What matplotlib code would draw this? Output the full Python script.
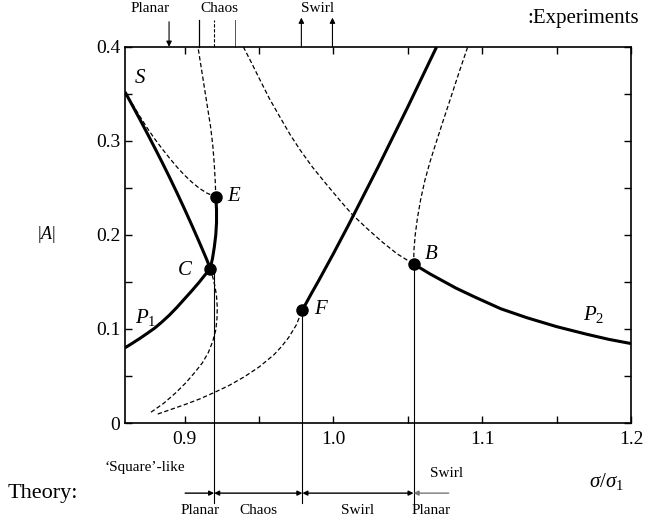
import numpy as np
import matplotlib
matplotlib.use("Agg")
import matplotlib.pyplot as plt

plt.rcParams['font.family'] = ['Liberation Serif', 'DejaVu Serif']
plt.rcParams['mathtext.fontset'] = 'custom'
plt.rcParams['mathtext.rm'] = 'Liberation Serif'
plt.rcParams['mathtext.it'] = 'Liberation Serif:italic'

# ---- response branches (sigma/sigma_1, |A|) ----
p1_low_s = [0.860, 0.865, 0.870, 0.875, 0.880, 0.885, 0.890, 0.895, 0.900, 0.905, 0.910,
            0.9135, 0.9172, 0.9188, 0.9200, 0.9210, 0.9215, 0.9215, 0.9210]
p1_low_a = [0.080, 0.0849, 0.090, 0.0954, 0.101, 0.1077, 0.115, 0.1232, 0.132, 0.1408, 0.150,
            0.157, 0.164, 0.175, 0.187, 0.200, 0.213, 0.227, 0.2404]

p1_up_s = [0.9210, 0.9207, 0.9200, 0.9190, 0.9175, 0.9155, 0.9130, 0.9110, 0.9090]
p1_up_a = [0.2404, 0.255, 0.275, 0.295, 0.315, 0.335, 0.360, 0.380, 0.400]

sq_stable_s = [0.860, 0.865, 0.870, 0.875, 0.880, 0.885, 0.890, 0.895, 0.900, 0.905, 0.910,
               0.915, 0.9172]
sq_stable_a = [0.352, 0.3375, 0.3228, 0.3078, 0.2925, 0.2770, 0.2610, 0.2445, 0.2275, 0.2100,
               0.1920, 0.1735, 0.1645]

sq_unst_s = [0.860, 0.865, 0.870, 0.875, 0.880, 0.885, 0.890, 0.895, 0.900, 0.905, 0.910,
             0.915, 0.9210]
sq_unst_a = [0.352, 0.339, 0.326, 0.3135, 0.302, 0.2915, 0.2815, 0.272, 0.2635, 0.256,
             0.2495, 0.2445, 0.2404]

c_low_s = [0.9172, 0.9190, 0.9205, 0.9215, 0.9220, 0.9218, 0.9210, 0.9190, 0.9160, 0.9120,
           0.9070, 0.9010, 0.8940, 0.8860, 0.8770]
c_low_a = [0.164, 0.155, 0.145, 0.135, 0.123, 0.111, 0.099, 0.087, 0.075, 0.064,
           0.054, 0.043, 0.032, 0.021, 0.011]

sw_unst_s = [0.882, 0.890, 0.900, 0.910, 0.920, 0.930, 0.940, 0.950, 0.960, 0.965, 0.970,
             0.975, 0.9792]
sw_unst_a = [0.0096, 0.0140, 0.0195, 0.0255, 0.0325, 0.040, 0.049, 0.0595, 0.0725, 0.081,
             0.091, 0.104, 0.1202]

sw_stable_s = [0.9792, 0.9850, 0.990, 1.000, 1.010, 1.020, 1.030, 1.040, 1.050, 1.060, 1.0694]
sw_stable_a = [0.1202, 0.137, 0.151, 0.180, 0.210, 0.241, 0.272, 0.304, 0.336, 0.369, 0.400]

p2_unst_s = [0.9395, 0.945, 0.950, 0.957, 0.9644, 0.971, 0.9778, 0.986, 0.995, 1.004,
             1.0129, 1.023, 1.033, 1.043, 1.0539]
p2_unst_a = [0.400, 0.383, 0.367, 0.345, 0.3245, 0.3065, 0.290, 0.272, 0.2545, 0.2375,
             0.2213, 0.2063, 0.1923, 0.1797, 0.1691]

p2_stable_s = [1.0539, 1.065, 1.0822, 1.095, 1.1125, 1.130, 1.150, 1.170, 1.185, 1.200]
p2_stable_a = [0.1691, 0.1585, 0.1436, 0.134, 0.1215, 0.112, 0.1025, 0.0945, 0.089, 0.0845]

b_up_s = [1.0539, 1.0542, 1.0550, 1.0565, 1.0587, 1.0615, 1.0650, 1.0690, 1.0735, 1.0785,
          1.0843, 1.0903]
b_up_a = [0.1691, 0.185, 0.200, 0.218, 0.238, 0.258, 0.278, 0.298, 0.320, 0.344,
          0.372, 0.400]

# special points
pt_names = ['E', 'C', 'F', 'B']
pt_s = [0.9210, 0.9172, 0.9792, 1.0539]
pt_a = [0.2404, 0.164, 0.1202, 0.1691]

# regime boundaries from theory and experiment marks
theory_edges = [0.9004, 0.9199, 0.9792, 1.0539, 1.0775]
theory_labels = ['Planar', 'Chaos', 'Swirl', 'Planar']
exp_planar_arrow = 0.8896
exp_chaos_lines = [0.910, 0.920, 0.934]
exp_swirl_arrows = [0.9785, 0.9994]

fig = plt.figure(figsize=(6.45, 5.21), dpi=100)
ax = fig.add_axes([0.1938, 0.188, 0.7845, 0.7222])

thick = dict(color='black', lw=2.2, solid_capstyle='butt', solid_joinstyle='round')
dash = dict(color='black', lw=0.9, linestyle=(0, (3.5, 2.0)))

ax.plot(p1_low_s, p1_low_a, **thick)
ax.plot(p1_up_s, p1_up_a, **dash)
ax.plot(sq_stable_s, sq_stable_a, **thick)
ax.plot(sq_unst_s, sq_unst_a, **dash)
ax.plot(c_low_s, c_low_a, **dash)
ax.plot(sw_unst_s, sw_unst_a, **dash)
ax.plot(sw_stable_s, sw_stable_a, **thick)
ax.plot(p2_unst_s, p2_unst_a, **dash)
ax.plot(p2_stable_s, p2_stable_a, **thick)
ax.plot(b_up_s, b_up_a, **dash)

# thin verticals from bifurcation points down to the theory row
for s, a in [(theory_edges[1], pt_a[1]), (pt_s[2], pt_a[2]), (pt_s[3], pt_a[3])]:
    ax.plot([s, s], [a, -0.085], color='black', lw=0.8, clip_on=False)

ax.plot(pt_s, pt_a, 'o', color='black', markersize=8, zorder=5)

lab_off = {'E': (0.012, 0.0), 'C': (-0.017, -0.002), 'F': (0.012, 0.0), 'B': (0.012, 0.01)}
for n, s, a in zip(pt_names, pt_s, pt_a):
    dx, dy = lab_off[n]
    ax.text(s + dx, a + dy, n, fontsize=15, style='italic', va='center', ha='center')
ax.text(0.870, 0.366, 'S', fontsize=15, style='italic', va='center', ha='center')
ax.text(0.874, 0.112, r'$P_1$', fontsize=15, va='center', ha='center')
ax.text(1.175, 0.115, r'$P_2$', fontsize=15, va='center', ha='center')

ax.set_xlim(0.86, 1.2)
ax.set_ylim(0, 0.4)
ax.set_xticks([0.9, 1.0, 1.1, 1.2])
ax.set_xticklabels(['0.9', '1.0', '1.1', '1.2'])
ax.set_xticks([0.95, 1.05, 1.15], minor=True)
ax.set_yticks([0, 0.1, 0.2, 0.3, 0.4])
ax.set_yticklabels(['0', '0.1', '0.2', '0.3', '0.4'])
ax.set_yticks([0.05, 0.15, 0.25, 0.35], minor=True)
ax.tick_params(which='both', direction='in', top=True, right=True,
               length=5, width=1.0, labelsize=14)
ax.tick_params(axis='x', pad=6)
for sp in ax.spines.values():
    sp.set_linewidth(1.2)

ax.text(-0.155, 0.5, r'$|A|$', transform=ax.transAxes, fontsize=13,
        ha='center', va='center')

# experiments row above the frame
ax.annotate('', xy=(exp_planar_arrow, 0.4), xytext=(exp_planar_arrow, 0.4266),
            arrowprops=dict(arrowstyle='-|>', color='black', lw=0.8,
                            mutation_scale=8, shrinkA=0, shrinkB=0),
            annotation_clip=False)
ax.plot([exp_chaos_lines[0]] * 2, [0.4, 0.4287], color='black', lw=0.9, clip_on=False)
ax.plot([exp_chaos_lines[1]] * 2, [0.4, 0.4287], color='black', lw=0.8,
        linestyle=(0, (3, 1.5)), clip_on=False)
ax.plot([exp_chaos_lines[2]] * 2, [0.4, 0.4287], color='#555555', lw=0.7, clip_on=False)
for s in exp_swirl_arrows:
    ax.annotate('', xy=(s, 0.431), xytext=(s, 0.4),
                arrowprops=dict(arrowstyle='-|>', color='black', lw=0.8,
                                mutation_scale=8, shrinkA=0, shrinkB=0),
                annotation_clip=False)
ax.text(0.8768, 0.4404, 'Planar', fontsize=11, ha='center', va='center')
ax.text(0.9233, 0.4404, 'Chaos', fontsize=11, ha='center', va='center')
ax.text(0.9893, 0.4404, 'Swirl', fontsize=11, ha='center', va='center')
ax.text(1.2055, 0.4298, ':Experiments', fontsize=15, ha='right', va='center')

# theory row below the frame
ya = -0.0745
arr = dict(color='black', lw=1.0, mutation_scale=7, shrinkA=0, shrinkB=0)
ax.annotate('', xy=(theory_edges[1], ya), xytext=(theory_edges[0], ya),
            arrowprops=dict(arrowstyle='-|>', **arr), annotation_clip=False)
ax.annotate('', xy=(theory_edges[2], ya), xytext=(theory_edges[1], ya),
            arrowprops=dict(arrowstyle='<|-|>', **arr), annotation_clip=False)
ax.annotate('', xy=(theory_edges[3], ya), xytext=(theory_edges[2], ya),
            arrowprops=dict(arrowstyle='<|-|>', **arr), annotation_clip=False)
arr_g = dict(arr, color='#777777')
ax.annotate('', xy=(theory_edges[3], ya), xytext=(theory_edges[4], ya),
            arrowprops=dict(arrowstyle='-|>', **arr_g), annotation_clip=False)

for i, lab in enumerate(theory_labels):
    mid = 0.5 * (theory_edges[i] + theory_edges[i + 1])
    ax.text(mid, -0.093, lab, fontsize=11, ha='center', va='center')

ax.text(0.8048, ya, 'Theory:', fontsize=16, ha='center', va='center')
ax.text(0.8735, -0.0468, '‘Square’-like', fontsize=11, ha='center', va='center')
ax.text(1.0762, -0.0532, 'Swirl', fontsize=11, ha='center', va='center')
ax.text(1.1832, -0.0625, r'$\sigma/\sigma_1$', fontsize=15, ha='center', va='center')

fig.savefig('out.png', dpi=100)
